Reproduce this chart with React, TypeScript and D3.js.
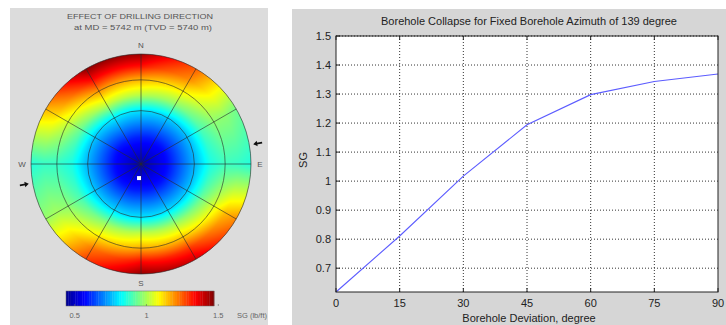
import * as d3 from "d3";
import { useEffect, useState } from "react";

// right chart: borehole collapse vs deviation at azimuth 139
const deviation = [0, 15, 30, 45, 60, 75, 90];
const collapseSG = [0.618, 0.811, 1.017, 1.194, 1.298, 1.343, 1.369];
const xTicks = [0, 15, 30, 45, 60, 75, 90];
const yTicks = [0.7, 0.8, 0.9, 1, 1.1, 1.2, 1.3, 1.4, 1.5];

// left chart: SG by inclination (columns) and azimuth (rows)
const polarIncl = [0, 15, 30, 45, 60, 75, 90];
const polarAzi = [0, 30, 60, 90, 120, 150, 180, 210, 240, 270, 300, 330];
const polarSG = [
  [0.47, 0.6, 0.8, 1.01, 1.16, 1.32, 1.44],
  [0.47, 0.59, 0.78, 0.97, 1.1, 1.2, 1.25],
  [0.47, 0.58, 0.76, 0.9, 0.97, 0.97, 0.94],
  [0.47, 0.58, 0.75, 0.85, 0.89, 0.88, 0.86],
  [0.47, 0.58, 0.77, 0.93, 1.05, 1.15, 1.2],
  [0.47, 0.59, 0.79, 0.99, 1.14, 1.29, 1.39],
  [0.47, 0.6, 0.8, 1.02, 1.17, 1.33, 1.45],
  [0.47, 0.59, 0.79, 0.98, 1.11, 1.22, 1.28],
  [0.47, 0.58, 0.77, 0.9, 0.97, 0.99, 0.98],
  [0.47, 0.58, 0.75, 0.85, 0.88, 0.88, 0.86],
  [0.47, 0.58, 0.77, 0.93, 1.04, 1.12, 1.16],
  [0.47, 0.6, 0.81, 1.03, 1.19, 1.34, 1.46],
];
const ringIncl = [30, 60, 90];
const spokeAzi = [0, 30, 60, 90, 120, 150, 180, 210, 240, 270, 300, 330];
const compass = [
  { label: "N", az: 0 },
  { label: "E", az: 90 },
  { label: "S", az: 180 },
  { label: "W", az: 270 },
];
const stressAzi = [80, 260];
const wellPoint = { inc: 8, az: 188 };
const colorTicks = [0.5, 1, 1.5];
const colorDomain = [0.44, 1.47];

const FONT = "Liberation Sans, Arial, sans-serif";

const jet = d3
  .scaleLinear<string>()
  .domain([0, 0.125, 0.375, 0.625, 0.875, 1])
  .range(["#000090", "#0000ff", "#00ffff", "#ffff00", "#ff0000", "#800000"])
  .interpolate(d3.interpolateRgb)
  .clamp(true);

const sgColor = (v: number) =>
  jet((v - colorDomain[0]) / (colorDomain[1] - colorDomain[0]));

// smooth shading between the table values (like shading interp)
function sgAt(inc: number, az: number) {
  const incStep = polarIncl[1] - polarIncl[0];
  const azStep = polarAzi[1] - polarAzi[0];
  const fi = Math.max(0, Math.min(inc / incStep, polarIncl.length - 1.0001));
  const i0 = Math.floor(fi);
  const ti = fi - i0;
  const fa = (((az % 360) + 360) % 360) / azStep;
  const a0 = Math.floor(fa) % polarAzi.length;
  const a1 = (a0 + 1) % polarAzi.length;
  const ta = fa - Math.floor(fa);
  const v0 = polarSG[a0][i0] + (polarSG[a0][i0 + 1] - polarSG[a0][i0]) * ti;
  const v1 = polarSG[a1][i0] + (polarSG[a1][i0 + 1] - polarSG[a1][i0]) * ti;
  return v0 + (v1 - v0) * ta;
}

const cx = 141;
const cy = 164;
const R = 110;
const rScale = d3
  .scaleLinear()
  .domain([0, 30, 60, 90])
  .range([0, 0.485 * R, 0.765 * R, R]);

function PolarPanel() {
  const [img, setImg] = useState("");

  useEffect(() => {
    const size = 2 * R + 2;
    const canvas = document.createElement("canvas");
    canvas.width = size;
    canvas.height = size;
    const ctx = canvas.getContext("2d");
    if (!ctx) return;
    const data = ctx.createImageData(size, size);
    for (let py = 0; py < size; py++) {
      for (let px = 0; px < size; px++) {
        const dx = px + 0.5 - size / 2;
        const dy = size / 2 - (py + 0.5);
        const r = Math.hypot(dx, dy);
        if (r > R + 0.5) continue;
        const inc = rScale.invert(Math.min(r, R));
        let az = (Math.atan2(dx, dy) * 180) / Math.PI;
        if (az < 0) az += 360;
        const c = d3.rgb(sgColor(sgAt(inc, az)));
        const k = (py * size + px) * 4;
        const alpha = r > R - 0.5 ? Math.max(0, R + 0.5 - r) : 1;
        data.data[k] = c.r;
        data.data[k + 1] = c.g;
        data.data[k + 2] = c.b;
        data.data[k + 3] = Math.round(alpha * 255);
      }
    }
    ctx.putImageData(data, 0, 0);
    setImg(canvas.toDataURL());
  }, []);

  const pt = (inc: number, az: number, extra = 0) => {
    const r = rScale(inc) + extra;
    const a = (az * Math.PI) / 180;
    return [cx + r * Math.sin(a), cy - r * Math.cos(a)];
  };

  const cbX = d3.scaleLinear().domain(colorDomain).range([66, 214]);
  const stripes = d3.range(64).map((i) => {
    const v0 = colorDomain[0] + ((colorDomain[1] - colorDomain[0]) * i) / 64;
    const v1 = colorDomain[0] + ((colorDomain[1] - colorDomain[0]) * (i + 1)) / 64;
    return { x: cbX(v0), w: cbX(v1) - cbX(v0), fill: sgColor((v0 + v1) / 2) };
  });

  return (
    <g>
      <rect x={10} y={8} width={258} height={317} fill="#dcdcdc" />
      <text x={140} y={19} textAnchor="middle" fontSize={7.5} fill="#555" fontFamily={FONT}
        textLength={146} lengthAdjust="spacingAndGlyphs">
        EFFECT OF DRILLING DIRECTION
      </text>
      <text x={143} y={30} textAnchor="middle" fontSize={7.5} fill="#555" fontFamily={FONT}
        textLength={138} lengthAdjust="spacingAndGlyphs">
        at MD = 5742 m  (TVD = 5740 m)
      </text>
      {img && (
        <image href={img} x={cx - R - 1} y={cy - R - 1} width={2 * R + 2} height={2 * R + 2} />
      )}
      {ringIncl.map((inc) => (
        <circle key={inc} cx={cx} cy={cy} r={rScale(inc)} fill="none"
          stroke="#2a2a2a" strokeOpacity={0.6} strokeWidth={1} />
      ))}
      {spokeAzi.map((az) => {
        const [x, y] = pt(90, az);
        return (
          <line key={az} x1={cx} y1={cy} x2={x} y2={y}
            stroke="#2a2a2a" strokeOpacity={0.6} strokeWidth={1} />
        );
      })}
      {compass.map((c) => {
        const [x, y] = pt(90, c.az, 9);
        return (
          <text key={c.label} x={x} y={y + 3} textAnchor="middle" fontSize={8}
            fill="#555" fontFamily={FONT}>
            {c.label}
          </text>
        );
      })}
      {stressAzi.map((az) => {
        const [x, y] = pt(90, az, 4);
        const rot = az - 90;
        return (
          <g key={az} transform={`translate(${x},${y}) rotate(${rot})`}>
            <line x1={2} y1={0} x2={9} y2={0} stroke="#111" strokeWidth={1.6} />
            <path d="M0,0 L4,-2.8 L4,2.8 Z" fill="#111" />
          </g>
        );
      })}
      {(() => {
        const [x, y] = pt(wellPoint.inc, wellPoint.az);
        return <rect x={x - 2} y={y - 2} width={4} height={4} fill="#fff" />;
      })()}
      {stripes.map((s, i) => (
        <rect key={i} x={s.x} y={291} width={s.w + 0.3} height={15} fill={s.fill} />
      ))}
      <rect x={66} y={291} width={148} height={15} fill="none" stroke="#666" strokeWidth={0.5} />
      {colorTicks.map((t) => (
        <g key={t}>
          <line x1={cbX(t)} x2={cbX(t)} y1={306} y2={304} stroke="#666" strokeWidth={0.6} />
          <text x={cbX(t)} y={318} textAnchor="middle" fontSize={7.5} fill="#666" fontFamily={FONT}>
            {t}
          </text>
        </g>
      ))}
      <text x={237} y={318} fontSize={7.5} fill="#666" fontFamily={FONT}>
        SG (lb/ft)
      </text>
    </g>
  );
}

function LinePanel() {
  const x = d3.scaleLinear().domain([0, 90]).range([336, 718]);
  const y = d3.scaleLinear().domain([0.618, 1.5]).range([292, 36]);
  const line = d3
    .line<number>()
    .x((_, i) => x(deviation[i]))
    .y((d) => y(d));

  return (
    <g fontFamily={FONT}>
      <rect x={292} y={9} width={434} height={316} fill="#d6d6d6" />
      <text x={529} y={25} textAnchor="middle" fontSize={11} fill="#222">
        Borehole Collapse for Fixed Borehole Azimuth of 139 degree
      </text>
      <rect x={336} y={36} width={382} height={256} fill="#fff" />
      {xTicks.slice(1, -1).map((t) => (
        <line key={t} x1={x(t)} x2={x(t)} y1={36} y2={292}
          stroke="#333" strokeWidth={1} strokeDasharray="1,2" />
      ))}
      {yTicks.map((t) => (
        <line key={t} x1={336} x2={718} y1={y(t)} y2={y(t)}
          stroke="#333" strokeWidth={1} strokeDasharray="1,2" />
      ))}
      <path d={line(collapseSG) as string} fill="none" stroke="#5c5cff" strokeWidth={1.1} />
      <rect x={336} y={36} width={382} height={256} fill="none" stroke="#222" strokeWidth={1} />
      {xTicks.map((t) => (
        <g key={t}>
          <line x1={x(t)} x2={x(t)} y1={292} y2={288} stroke="#222" />
          <line x1={x(t)} x2={x(t)} y1={36} y2={40} stroke="#222" />
          <text x={x(t)} y={307} textAnchor="middle" fontSize={11} fill="#222">
            {t}
          </text>
        </g>
      ))}
      {yTicks.map((t) => (
        <g key={t}>
          <line x1={336} x2={340} y1={y(t)} y2={y(t)} stroke="#222" />
          <text x={331} y={y(t) + 4} textAnchor="end" fontSize={11} fill="#222">
            {t}
          </text>
        </g>
      ))}
      <text x={529} y={322} textAnchor="middle" fontSize={11} fill="#222">
        Borehole Deviation, degree
      </text>
      <text transform="translate(307,160) rotate(-90)" textAnchor="middle" fontSize={11} fill="#222">
        SG
      </text>
    </g>
  );
}

export default function App() {
  return (
    <svg width={726} height={325} style={{ position: "absolute", left: 0, top: 0, background: "#fff" }}>
      <PolarPanel />
      <LinePanel />
    </svg>
  );
}
